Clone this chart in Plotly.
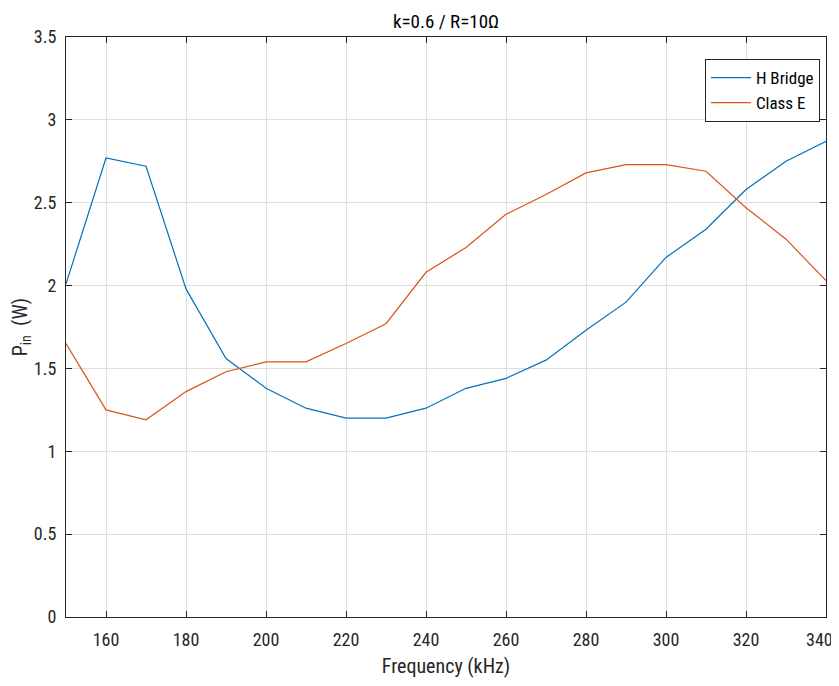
import plotly.graph_objects as go

freq_khz = [150, 160, 170, 180, 190, 200, 210, 220, 230, 240, 250, 260, 270, 280, 290, 300, 310, 320, 330, 340]
h_bridge = [2.01, 2.77, 2.72, 1.98, 1.56, 1.38, 1.26, 1.20, 1.20, 1.26, 1.38, 1.44, 1.55, 1.73, 1.90, 2.17, 2.34, 2.58, 2.75, 2.87]
class_e = [1.65, 1.25, 1.19, 1.36, 1.48, 1.54, 1.54, 1.65, 1.77, 2.08, 2.23, 2.43, 2.55, 2.68, 2.73, 2.73, 2.69, 2.47, 2.28, 2.03]

x_ticks = [160, 180, 200, 220, 240, 260, 280, 300, 320, 340]
x_tick_labels = ["160", "180", "200", "220", "240", "260", "280", "300", "320", "340\u2007\u2008"]
y_ticks = [0, 0.5, 1, 1.5, 2, 2.5, 3, 3.5]
y_tick_labels = ["0", "0.5", "1", "1.5", "2", "2.5", "3", "3.5"]

FONT = "Roboto Condensed, DejaVu Sans Condensed, sans-serif"

fig = go.Figure()
fig.add_trace(go.Scatter(x=freq_khz, y=h_bridge, mode="lines", name="H Bridge",
                         line=dict(color="#0072BD", width=1.2)))
fig.add_trace(go.Scatter(x=freq_khz, y=class_e, mode="lines", name="Class E",
                         line=dict(color="#D95319", width=1.2)))

axis_common = dict(showline=True, linecolor="#262626", linewidth=1, mirror="ticks",
                   ticks="inside", ticklen=6, tickcolor="#262626",
                   showgrid=True, gridcolor="#dedede", gridwidth=1, zeroline=False,
                   automargin=False, ticklabeloverflow="allow",
                   tickfont=dict(family=FONT, size=18, color="#262626"))

fig.update_xaxes(range=[150, 340], tickvals=x_ticks, ticktext=x_tick_labels, ticklabelstandoff=6,
                 title=dict(text="Frequency (kHz)", font=dict(family=FONT, size=20, color="#262626")),
                 **axis_common)
fig.update_yaxes(range=[0, 3.5], tickvals=y_ticks, ticktext=y_tick_labels, ticklabelstandoff=5,
                 title=dict(text="P<sub>in</sub>  (W)", font=dict(family=FONT, size=20, color="#262626")),
                 **axis_common)

fig.update_layout(
    width=823, height=670,
    margin=dict(l=58, r=5, t=29, b=61),
    paper_bgcolor="white", plot_bgcolor="white",
    title=dict(text="k=0.6 / R=10Ω", x=0.5, xref="paper", xanchor="center", y=0.99, yanchor="top",
               font=dict(family=FONT, size=19, color="#000000")),
    showlegend=True,
    legend=dict(x=0.992, y=0.962, xanchor="right", yanchor="top",
                bgcolor="white", bordercolor="#262626", borderwidth=1,
                font=dict(family=FONT, size=17, color="#000000"),
                itemwidth=40, tracegroupgap=0),
    font=dict(family=FONT),
)

fig.write_html("out.html")
